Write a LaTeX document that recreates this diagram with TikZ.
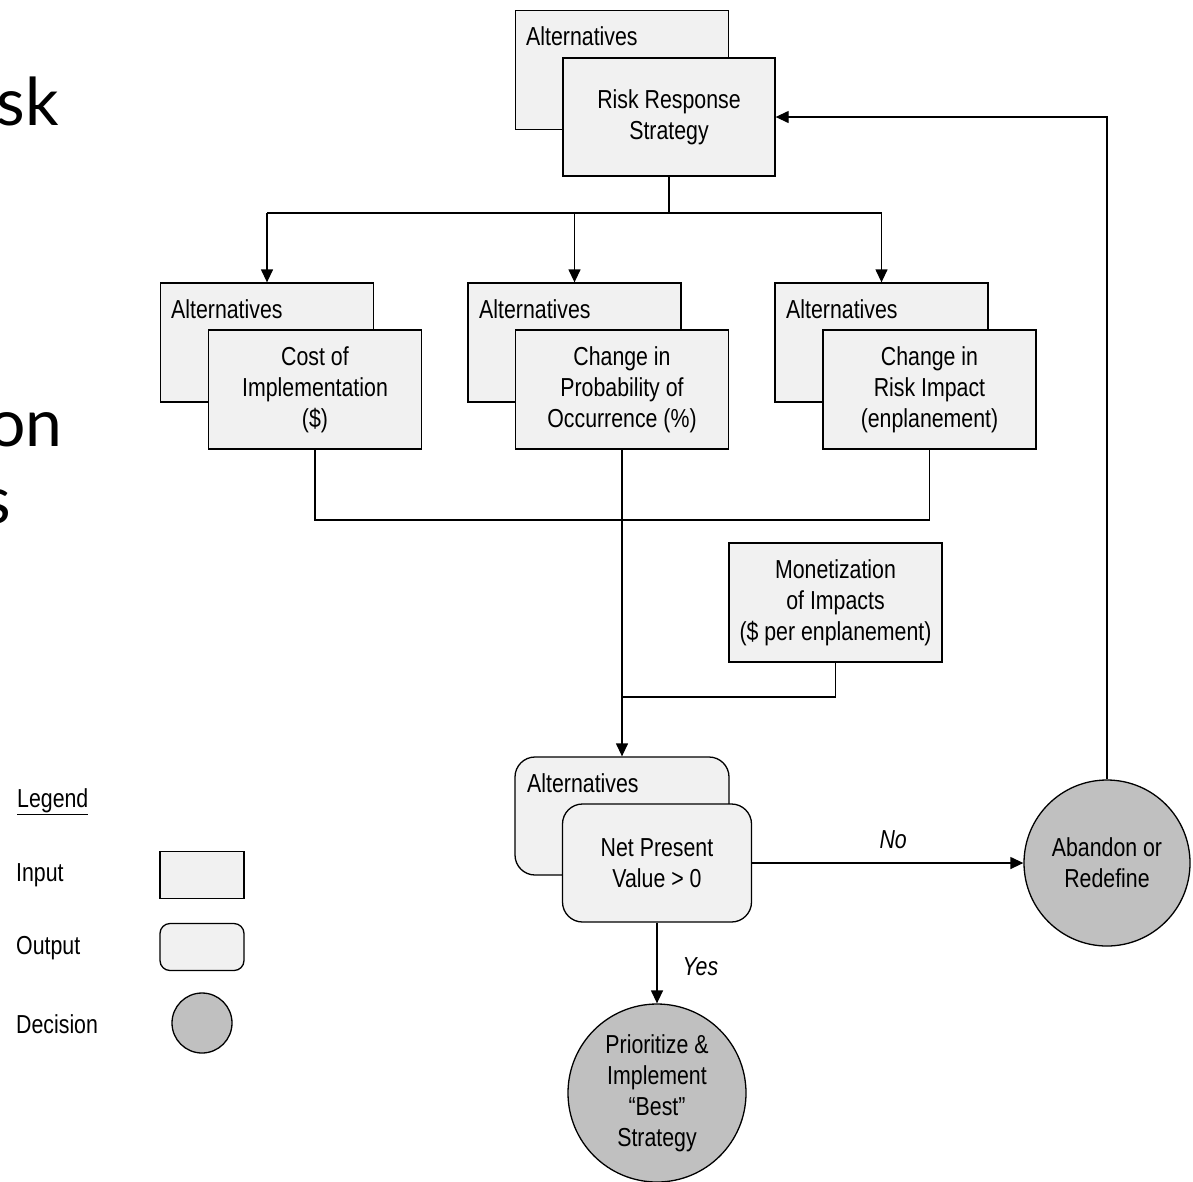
\documentclass[tikz,border=0pt]{standalone}
\usepackage{fontspec}
\setmainfont{Liberation Sans}[FakeStretch=0.82]
\newfontfamily\slidefont{Lato}
\usetikzlibrary{arrows.meta}
\definecolor{boxfill}{HTML}{F1F1F1}
\definecolor{decfill}{HTML}{C0C0C0}
\begin{document}
\begin{tikzpicture}[x=1pt,y=-1pt,
  diag/.style={font=\fontsize{26}{31}\selectfont},
  inbox/.style={draw, line width=1.3pt, fill=boxfill, minimum width=213pt, minimum height=119pt, inner sep=0pt, align=center, diag},
  outbox/.style={inbox, rounded corners=20pt},
  decision/.style={circle, draw, line width=1.3pt, fill=decfill, inner sep=0pt, align=center, diag},
  alttext/.style={anchor=base west, inner sep=0pt, diag},
  legtext/.style={anchor=base west, inner sep=0pt, diag},
  slide/.style={anchor=base east, inner sep=0pt, font=\slidefont\fontsize{66}{70}\selectfont},
  conn/.style={line width=1.3pt},
  arr/.style={conn, -{Triangle[length=13pt,width=12pt]}},
  lbl/.style={font=\fontsize{26}{31}\selectfont\itshape, inner sep=0pt}
]
\useasboundingbox (0,0) rectangle (1193,1181);

% slide fragments
\node[slide] (fsk) at (59,125) {sk};
\node[slide] (fon) at (63,446) {on};
\node[slide] (fs) at (11,523) {s};

% top
\node[inbox] (altrrs) at (622,70) {};
\node[alttext] (altrrsT) at (526,45) {Alternatives};
\node[inbox, minimum width=212pt, minimum height=118pt] (rrs) at (669,117) {Risk Response\\Strategy};

% row 2
\node[inbox] (alt1) at (267,342.5) {};
\node[alttext] (alt1T) at (171,318) {Alternatives};
\node[inbox] (cost) at (315,389.5) {Cost of\\Implementation\\(\$)};

\node[inbox] (alt2) at (574.5,342.5) {};
\node[alttext] (alt2T) at (479,318) {Alternatives};
\node[inbox] (prob) at (622,389.5) {Change in\\Probability of\\Occurrence (\%)};

\node[inbox] (alt3) at (881.5,342.5) {};
\node[alttext] (alt3T) at (786,318) {Alternatives};
\node[inbox] (impact) at (929.5,389.5) {Change in\\Risk Impact\\(enplanement)};

% monetization
\node[inbox] (mon) at (835.5,602.5) {Monetization\\of Impacts\\(\$ per enplanement)};

% output
\node[outbox, minimum width=214pt, minimum height=118pt] (altout) at (622,816) {};
\node[alttext] (altoutT) at (527,792) {Alternatives};
\node[outbox, minimum width=189pt, minimum height=118pt] (npv) at (657,863) {Net Present\\Value > 0};

% decisions
\node[decision, minimum size=166pt] (abandon) at (1107,863) {Abandon or\\Redefine};
\node[decision, minimum size=178pt] (prio) at (657,1093) {Prioritize \&\\Implement\\``Best''\\Strategy};

% connectors
\coordinate (toprow) at (0,213);
\coordinate (midrow) at (0,520);
\coordinate (monrow) at (0,697);
\draw[conn] (rrs.south) -- (rrs.south |- toprow);
\draw[conn] (alt1.north |- toprow) -- (alt3.north |- toprow);
\draw[arr] (alt1.north |- toprow) -- (alt1.north);
\draw[arr] (alt2.north |- toprow) -- (alt2.north);
\draw[arr] (alt3.north |- toprow) -- (alt3.north);

\draw[conn] (cost.south) -- (cost.south |- midrow) -- (impact.south |- midrow) -- (impact.south);
\draw[arr] (prob.south) -- (altout.north);
\draw[conn] (mon.south) -- (mon.south |- monrow) -- (prob.south |- monrow);

\draw[arr] (npv.east) -- node[lbl, pos=0.52, above=14pt] (nolbl) {No} (abandon.west);
\draw[arr] (npv.south) -- node[lbl, pos=0.55, right=25pt] (yeslbl) {Yes} (prio.north);
\draw[arr] (abandon.north) |- (rrs.east);

% legend
\node[legtext] (legT) at (17,807) {\underline{Legend}};
\node[legtext] (inT) at (16,881) {Input};
\node[legtext] (outT) at (16,954) {Output};
\node[legtext] (decT) at (16,1033) {Decision};
\node[inbox, minimum width=84pt, minimum height=47pt] (legin) at (202,875) {};
\node[inbox, rounded corners=10pt, minimum width=84pt, minimum height=47pt] (legout) at (202,947) {};
\node[decision, minimum size=60pt] (legdec) at (202,1023) {};
\end{tikzpicture}
\end{document}
